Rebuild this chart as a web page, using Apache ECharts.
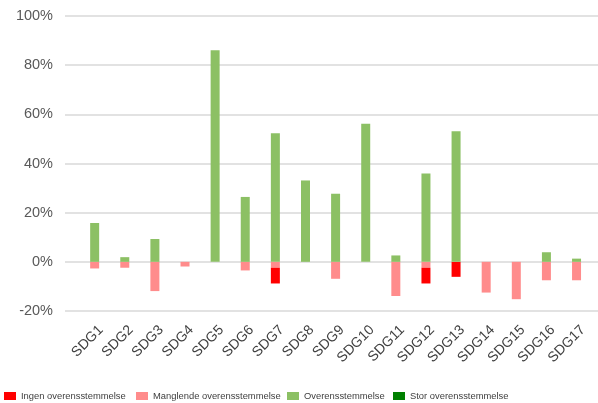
<!DOCTYPE html>
<html>
<head>
<meta charset="utf-8">
<script src="https://cdn.jsdelivr.net/npm/echarts@6/dist/echarts.min.js"></script>
<style>
html,body{margin:0;padding:0;background:#fff;}
#chart{width:598px;height:403px;}
</style>
</head>
<body>
<div id="chart"></div>
<script>
var categories = ['SDG1','SDG2','SDG3','SDG4','SDG5','SDG6','SDG7','SDG8','SDG9','SDG10','SDG11','SDG12','SDG13','SDG14','SDG15','SDG16','SDG17'];
var ingen = [0, 0, 0, 0, 0, 0, -6.4, 0, 0, 0, 0, -6.4, -6.1, 0, 0, 0, 0];
var manglende = [-2.7, -2.4, -11.9, -1.9, 0, -3.5, -2.4, 0, -6.9, 0, -13.9, -2.4, 0, -12.5, -15.2, -7.5, -7.5];
var overens = [15.8, 1.9, 9.3, 0, 86.1, 26.4, 52.3, 33.1, 27.7, 56.2, 2.6, 35.9, 53.1, 0, 0, 3.9, 1.3];
var stor = [0, 0, 0, 0, 0, 0, 0, 0, 0, 0, 0, 0, 0, 0, 0, 0, 0];
var seriesNames = ['Ingen overensstemmelse', 'Manglende overensstemmelse', 'Overensstemmelse', 'Stor overensstemmelse'];
var yTicks = [-20, 0, 20, 40, 60, 80, 100];

var colors = {
  'Ingen overensstemmelse': '#FF0000',
  'Manglende overensstemmelse': '#FF8C8C',
  'Overensstemmelse': '#8CC064',
  'Stor overensstemmelse': '#008000'
};
var font = '"Liberation Sans", Arial, sans-serif';
var chart = echarts.init(document.getElementById('chart'));

function bar(name, data) {
  return {
    name: name, type: 'bar', stack: 'total', data: data,
    xAxisIndex: 1, yAxisIndex: 1, barWidth: 9,
    itemStyle: { color: colors[name] }
  };
}
var legendLefts = [4, 136, 287, 393];
var legends = seriesNames.map(function (n, i) {
  return {
    data: [n], left: legendLefts[i], top: 389, padding: 0,
    itemWidth: 12, itemHeight: 8, itemGap: 0, icon: 'rect',
    textStyle: { fontFamily: font, fontSize: 9.4, color: '#404040', lineHeight: 14 },
    selectedMode: false
  };
});

chart.setOption({
  animation: false,
  color: seriesNames.map(function (n) { return colors[n]; }),
  legend: legends,
  grid: [
    { left: 65, right: 0, top: 16, bottom: 92 },
    { left: 79.6, right: 6.4, top: 16, bottom: 92 }
  ],
  xAxis: [
    { gridIndex: 0, type: 'value', show: false, min: 0, max: 1 },
    {
      gridIndex: 1, type: 'category', data: categories,
      axisLine: { show: false }, axisTick: { show: false },
      axisLabel: {
        rotate: 45, interval: 0, margin: 10.4, verticalAlign: 'top', lineHeight: 18,
        fontFamily: font, fontSize: 14, color: '#404040'
      }
    }
  ],
  yAxis: [
    {
      gridIndex: 0, type: 'value', min: yTicks[0], max: yTicks[yTicks.length - 1], interval: 20,
      axisLine: { show: false }, axisTick: { show: false },
      splitLine: { lineStyle: { color: '#D9D9D9', width: 1.5 } },
      axisLabel: { formatter: '{value}%', margin: 12, fontFamily: font, fontSize: 14.5, color: '#595959' }
    },
    {
      gridIndex: 1, type: 'value', min: yTicks[0], max: yTicks[yTicks.length - 1], interval: 20,
      show: false, splitLine: { show: false }
    }
  ],
  series: [
    bar('Manglende overensstemmelse', manglende),
    bar('Ingen overensstemmelse', ingen),
    bar('Overensstemmelse', overens),
    bar('Stor overensstemmelse', stor)
  ]
});
</script>
</body>
</html>
